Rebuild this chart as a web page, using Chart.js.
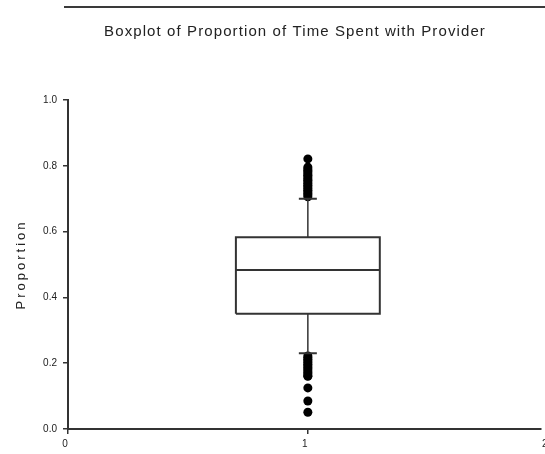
<!DOCTYPE html>
<html>
<head>
<meta charset="utf-8">
<title>Boxplot of Proportion of Time Spent with Provider</title>
<script src="https://cdn.jsdelivr.net/npm/chart.js@4/dist/chart.umd.min.js"></script>
<style>
    html, body { margin: 0; padding: 0; background: #fff; }
    canvas { display: block; }
</style>
</head>
<body>
<canvas id="provider-boxplot" width="545" height="454"></canvas>
<script>
/*========================*/
/*==== data ==============*/
/*========================*/
const groups = [1];
const xTicks = [0, 1, 2];
const lowerWhisker = [0.23];
const lowerQuartile = [0.35];
const medians = [0.483];
const upperQuartile = [0.583];
const upperWhisker = [0.70];
// points above the upper whisker
const outliersHigh = [
    0.821, 0.796, 0.791, 0.786, 0.781, 0.776, 0.771, 0.766, 0.761, 0.756,
    0.751, 0.746, 0.741, 0.736, 0.731, 0.726, 0.721, 0.716, 0.711, 0.706
];
// points below the lower whisker
const outliersLow = [
    0.222, 0.217, 0.212, 0.207, 0.202, 0.197, 0.192, 0.187, 0.182, 0.177,
    0.172, 0.167, 0.162, 0.16, 0.125, 0.085, 0.051
];

const chartTitle = 'Boxplot of Proportion of Time Spent with Provider';
const yTitle = 'Proportion';

/*==== look ====*/
const boxHalfWidth = 0.3;
const capHalfWidth = 0.0375;
const lineColor = '#333';
const textColor = '#222';
const fontFamily = '"Liberation Sans", Arial, sans-serif';

function segment(points, width) {
    return {
        data: points,
        showLine: true,
        borderColor: lineColor,
        borderWidth: width,
        borderJoinStyle: 'miter',
        pointRadius: 0,
        pointHoverRadius: 0,
        tension: 0
    };
}

/*==== build datasets from the stats ====*/
var datasets = [];
groups.forEach(function(g, i) {
    var lo = g - boxHalfWidth, hi = g + boxHalfWidth;
    datasets.push(segment([
        {x: lo, y: lowerQuartile[i]}, {x: hi, y: lowerQuartile[i]},
        {x: hi, y: upperQuartile[i]}, {x: lo, y: upperQuartile[i]},
        {x: lo, y: lowerQuartile[i]}
    ], 2));
    datasets.push(segment([{x: lo, y: medians[i]}, {x: hi, y: medians[i]}], 2));
    datasets.push(segment([{x: g, y: upperQuartile[i]}, {x: g, y: upperWhisker[i]}], 1.5));
    datasets.push(segment([{x: g, y: lowerQuartile[i]}, {x: g, y: lowerWhisker[i]}], 1.5));
    datasets.push(segment([{x: g - capHalfWidth, y: upperWhisker[i]}, {x: g + capHalfWidth, y: upperWhisker[i]}], 2));
    datasets.push(segment([{x: g - capHalfWidth, y: lowerWhisker[i]}, {x: g + capHalfWidth, y: lowerWhisker[i]}], 2));
});
datasets.push({
    data: outliersHigh.concat(outliersLow).map(function(v) { return {x: groups[0], y: v}; }),
    showLine: false,
    pointRadius: 4.5,
    pointHoverRadius: 4.5,
    pointBackgroundColor: '#000',
    pointBorderWidth: 0
});

/*==== title, rule and axis title ====*/
const headerPlugin = {
    id: 'header',
    afterDraw: function(chart) {
        var ctx = chart.ctx;
        ctx.save();
        ctx.strokeStyle = '#3a3a3a';
        ctx.lineWidth = 2;
        ctx.beginPath();
        ctx.moveTo(64, 7);
        ctx.lineTo(chart.width, 7);
        ctx.stroke();

        ctx.fillStyle = textColor;
        ctx.textAlign = 'center';
        ctx.textBaseline = 'alphabetic';
        ctx.font = '15px ' + fontFamily;
        ctx.letterSpacing = '1.1px';
        ctx.fillText(chartTitle, 295, 36);

        var area = chart.chartArea;
        ctx.translate(25, (area.top + area.bottom) / 2);
        ctx.rotate(-Math.PI / 2);
        ctx.font = '13px ' + fontFamily;
        ctx.letterSpacing = '3px';
        ctx.fillText(yTitle, 0, 0);
        ctx.restore();
    }
};

/*=== config ====*/
const config_boxplot = {
    type: 'scatter',
    data: { datasets: datasets },
    options: {
        responsive: false,
        animation: false,
        events: [],
        layout: { padding: { top: 100, left: 0, right: 0, bottom: 0 } },
        plugins: {
            legend: { display: false },
            title: { display: false },
            tooltip: { enabled: false }
        },
        scales: {
            x: {
                type: 'linear',
                min: 0,
                max: 1.97,
                afterBuildTicks: function(scale) {
                    scale.ticks = xTicks.map(function(v) { return {value: v}; });
                },
                afterFit: function(scale) {
                    scale.height = 25;
                    scale.paddingLeft = 0;
                    scale.paddingRight = 0;
                },
                border: { display: true, color: lineColor, width: 2 },
                grid: { drawOnChartArea: false, drawTicks: true, tickLength: 5, color: lineColor, lineWidth: 1.5 },
                ticks: {
                    padding: 4,
                    labelOffset: -3,
                    color: textColor,
                    font: { family: fontFamily, size: 10 },
                    callback: function(v) { return v; }
                }
            },
            y: {
                min: 0,
                max: 1,
                afterFit: function(scale) {
                    scale.width = 68;
                },
                border: { display: true, color: lineColor, width: 2 },
                grid: { drawOnChartArea: false, drawTicks: true, tickLength: 5, color: lineColor, lineWidth: 1.5 },
                ticks: {
                    stepSize: 0.2,
                    padding: 6,
                    color: textColor,
                    font: { family: fontFamily, size: 10 },
                    callback: function(v) { return v.toFixed(1); }
                }
            }
        }
    },
    plugins: [headerPlugin]
};

/*===== render graphic =====*/
var providerBoxplot = new Chart(document.getElementById('provider-boxplot'), config_boxplot);
</script>
</body>
</html>
